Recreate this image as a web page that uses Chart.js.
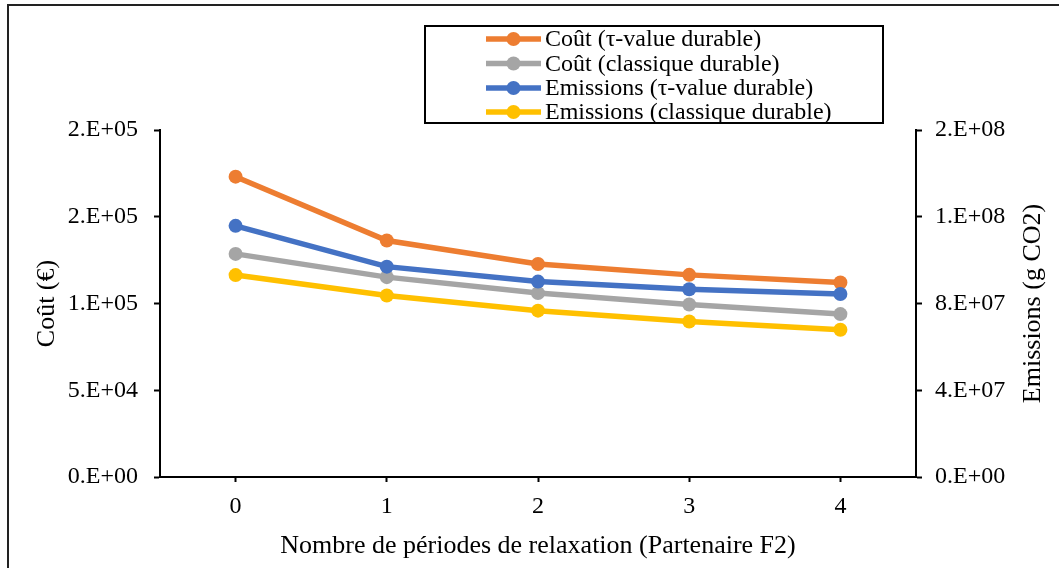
<!DOCTYPE html>
<html>
<head>
<meta charset="utf-8">
<script src="https://cdn.jsdelivr.net/npm/chart.js@4/dist/chart.umd.min.js"></script>
<style>
  html, body { margin: 0; padding: 0; background: #ffffff; }
  #wrap { width: 1059px; height: 568px; position: relative; }
</style>
</head>
<body>
<div id="wrap"><canvas id="c" width="1059" height="568"></canvas></div>
<script>
// Relaxation periods on the x axis
const categories = ['0', '1', '2', '3', '4'];

// Cost series (€), left axis
const coutTauValue = [173100, 136300, 122800, 116500, 112100];
const coutClassique = [128600, 115200, 106000, 99400, 93900];

// Emission series (g CO2), right axis
const emissionsTauValue = [115800000, 97000000, 90100000, 86600000, 84400000];
const emissionsClassique = [93100000, 83700000, 76700000, 71700000, 67900000];

const seriesLabels = [
  'Coût (τ-value durable)',
  'Coût (classique durable)',
  'Emissions (τ-value durable)',
  'Emissions (classique durable)'
];
const seriesColors = ['#ED7D31', '#A5A5A5', '#4472C4', '#FFC000'];

const FONT = "'Liberation Serif', 'Times New Roman', serif";

// Scientific labels like 2.E+05
function sciLabel(v) {
  if (v === 0) return '0.E+00';
  const parts = Number(v).toExponential(0).split('e');
  const exp = parseInt(parts[1], 10);
  const sign = exp < 0 ? '-' : '+';
  const e = String(Math.abs(exp)).padStart(2, '0');
  return parts[0] + '.E' + sign + e;
}

function makeDataset(i, data, axis, order) {
  return {
    label: seriesLabels[i],
    data: data,
    yAxisID: axis,
    borderColor: seriesColors[i],
    backgroundColor: seriesColors[i],
    pointBackgroundColor: seriesColors[i],
    pointBorderColor: seriesColors[i],
    borderWidth: 5.5,
    pointRadius: 7,
    pointBorderWidth: 0,
    tension: 0,
    order: order
  };
}

// Frame, legend box and right axis title
const decorations = {
  id: 'decorations',
  afterDraw(chart) {
    const ctx = chart.ctx;
    ctx.save();
    // outer frame (left and top edges)
    ctx.strokeStyle = '#222222';
    ctx.lineWidth = 2;
    ctx.beginPath();
    ctx.moveTo(8, 568);
    ctx.lineTo(8, 5);
    ctx.lineTo(1059, 5);
    ctx.stroke();

    // legend
    const bx = 425, by = 26, bw = 458, bh = 97;
    ctx.fillStyle = '#ffffff';
    ctx.fillRect(bx, by, bw, bh);
    ctx.strokeStyle = '#000000';
    ctx.lineWidth = 2;
    ctx.strokeRect(bx, by, bw, bh);
    const rows = [39, 63.5, 88, 112];
    ctx.font = '24px ' + FONT;
    ctx.textBaseline = 'middle';
    ctx.textAlign = 'left';
    chart.data.datasets.forEach((ds, i) => {
      const y = rows[i];
      ctx.strokeStyle = ds.borderColor;
      ctx.lineWidth = 5.5;
      ctx.beginPath();
      ctx.moveTo(486, y);
      ctx.lineTo(541, y);
      ctx.stroke();
      ctx.fillStyle = ds.borderColor;
      ctx.beginPath();
      ctx.arc(513.5, y, 7, 0, Math.PI * 2);
      ctx.fill();
      ctx.fillStyle = '#000000';
      ctx.fillText(ds.label, 545, y + 1);
    });

    // right axis title, reading bottom to top
    const area = chart.chartArea;
    ctx.translate(1033, (area.top + area.bottom) / 2);
    ctx.rotate(-Math.PI / 2);
    ctx.font = '26px ' + FONT;
    ctx.textAlign = 'center';
    ctx.textBaseline = 'middle';
    ctx.fillStyle = '#000000';
    ctx.fillText('Emissions (g CO2)', 0, 0);
    ctx.restore();
  }
};

new Chart(document.getElementById('c'), {
  type: 'line',
  data: {
    labels: categories,
    datasets: [
      makeDataset(0, coutTauValue, 'yCout', 4),
      makeDataset(1, coutClassique, 'yCout', 3),
      makeDataset(2, emissionsTauValue, 'yEmis', 2),
      makeDataset(3, emissionsClassique, 'yEmis', 1)
    ]
  },
  options: {
    responsive: false,
    animation: false,
    devicePixelRatio: 1,
    layout: { padding: { top: 130, left: 0, right: 0, bottom: 0 } },
    plugins: {
      legend: { display: false },
      tooltip: { enabled: false }
    },
    scales: {
      x: {
        type: 'category',
        offset: true,
        grid: {
          offset: false,
          drawOnChartArea: false,
          drawTicks: true,
          tickLength: 5,
          tickWidth: 2,
          tickColor: '#000000'
        },
        border: { display: true, color: '#000000', width: 2 },
        ticks: {
          color: '#000000',
          font: { family: FONT, size: 24 },
          padding: 10,
          maxRotation: 0
        },
        title: {
          display: true,
          text: 'Nombre de périodes de relaxation (Partenaire F2)',
          color: '#000000',
          font: { family: FONT, size: 26 },
          padding: { top: 0, bottom: 6 }
        },
        afterFit(scale) { scale.height = 91; }
      },
      yCout: {
        type: 'linear',
        position: 'left',
        min: 0,
        max: 200000,
        ticks: {
          stepSize: 50000,
          color: '#000000',
          font: { family: FONT, size: 24 },
          padding: 16,
          callback: (v) => sciLabel(v)
        },
        grid: {
          drawOnChartArea: false,
          drawTicks: true,
          tickLength: 6,
          tickWidth: 2,
          tickColor: '#000000'
        },
        border: { display: true, color: '#000000', width: 2 },
        title: {
          display: true,
          text: 'Coût (€)',
          color: '#000000',
          font: { family: FONT, size: 26 },
          padding: { top: 32, bottom: 0 }
        },
        afterFit(scale) { scale.width = 160; }
      },
      yEmis: {
        type: 'linear',
        position: 'right',
        min: 0,
        max: 160000000,
        ticks: {
          stepSize: 40000000,
          color: '#000000',
          font: { family: FONT, size: 24 },
          padding: 13,
          callback: (v) => sciLabel(v)
        },
        grid: {
          drawOnChartArea: false,
          drawTicks: true,
          tickLength: 6,
          tickWidth: 2,
          tickColor: '#000000'
        },
        border: { display: true, color: '#000000', width: 2 },
        afterFit(scale) { scale.width = 143; }
      }
    }
  },
  plugins: [decorations]
});
</script>
</body>
</html>
